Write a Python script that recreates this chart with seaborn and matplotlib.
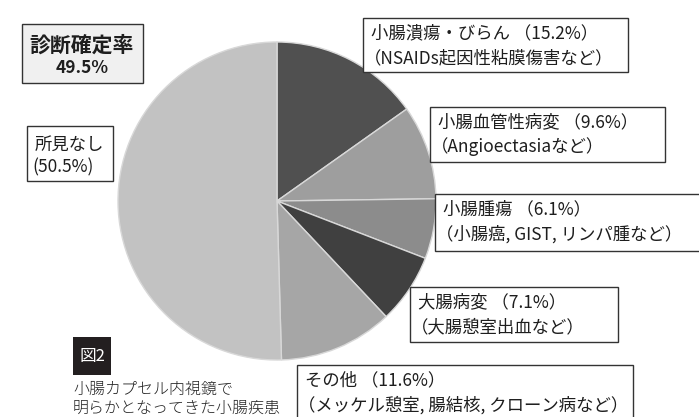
import matplotlib
matplotlib.use("Agg")
import matplotlib.pyplot as plt
import matplotlib.patches as mpatches
import seaborn as sns

# ---- data ----
categories = ["小腸潰瘍・びらん", "小腸血管性病変", "小腸腫瘍", "大腸病変", "その他", "所見なし"]
values = [15.2, 9.6, 6.1, 7.1, 11.6, 50.5]
details = ["（NSAIDs起因性粘膜傷害など）", "（Angioectasiaなど）",
           "（小腸癌, GIST, リンパ腫など）", "（大腸憩室出血など）",
           "（メッケル憩室, 腸結核, クローン病など）", ""]
diag_title = "診断確定率"
diag_value = "49.5%"
fig_tag = "図2"
caption = ["小腸カプセル内視鏡で", "明らかとなってきた小腸疾患"]

slice_colors = ["#505050", "#9e9e9e", "#8c8c8c", "#404040", "#a6a6a6", "#c2c2c2"]

sns.set_theme(style="white")
plt.rcParams['font.family'] = ['Noto Sans CJK JP', 'DejaVu Sans']

W, H = 699, 417
fig = plt.figure(figsize=(W / 100, H / 100), dpi=100)
fig.patch.set_facecolor("white")

def fx(x):
    return x / W

def fy(y):
    return 1 - y / H

# pie
cx, cy, r = 277, 201, 159
ax = fig.add_axes([fx(cx - r), fy(cy + r), 2 * r / W, 2 * r / H])
ax.pie(values, colors=slice_colors, startangle=90, counterclock=False,
       wedgeprops=dict(edgecolor="#d8d8d8", linewidth=1.0))
ax.set_xlim(-1.0, 1.0)
ax.set_ylim(-1.0, 1.0)
ax.set_aspect("auto")
ax.axis("off")

def box(x0, y0, x1, y1, fc="white", lw=1.0):
    rect = mpatches.Rectangle((fx(x0), fy(y1)), fx(x1) - fx(x0), fy(y0) - fy(y1),
                              transform=fig.transFigure, facecolor=fc,
                              edgecolor="#333333", linewidth=lw, zorder=5)
    fig.add_artist(rect)

def pct(v):
    return f"（{v:.1f}%）"

# label boxes: (x0, y0, x1, y1) in pixels
boxes = [
    (363, 18, 628, 72),
    (430, 107, 665, 162),
    (435, 194, 705, 251),
    (410, 287, 618, 342),
    (297, 365, 633, 425),
]
for i, (x0, y0, x1, y1) in enumerate(boxes):
    box(x0, y0, x1, y1)
    fig.text(fx(x0 + 8), fy(y0 + 15), f"{categories[i]} {pct(values[i])}",
             fontsize=12.5, color="#1e1e1e", va="center", ha="left", zorder=6)
    fig.text(fx(x0 + 1), fy(y0 + 40), details[i],
             fontsize=12.5, color="#1e1e1e", va="center", ha="left", zorder=6)

# 所見なし
box(27, 126, 113, 181)
fig.text(fx(35), fy(145), categories[5], fontsize=12.5, color="#1e1e1e",
         va="center", ha="left", zorder=6)
fig.text(fx(32), fy(167), f"({values[5]:.1f}%)", fontsize=12.5, color="#1e1e1e",
         va="center", ha="left", zorder=6)

# diagnosis rate box
box(22, 24, 143, 83, fc="#f0f0f0")
fig.text(fx(82), fy(45), diag_title, fontsize=15, fontweight="bold",
         color="#1e1e1e", va="center", ha="center", zorder=6)
fig.text(fx(82), fy(68), diag_value, fontsize=12.5, fontweight="bold",
         color="#1e1e1e", va="center", ha="center", zorder=6)

# figure tag
tag = mpatches.Rectangle((fx(73), fy(375)), fx(111) - fx(73), fy(337) - fy(375),
                         transform=fig.transFigure, facecolor="#231f20",
                         edgecolor="none", zorder=5)
fig.add_artist(tag)
fig.text(fx(92), fy(356), fig_tag, fontsize=12, color="white",
         va="center", ha="center", zorder=6)

fig.text(fx(73), fy(389), caption[0], fontsize=11.5, color="#222222",
         va="center", ha="left", fontweight="light")
fig.text(fx(73), fy(408), caption[1], fontsize=11.5, color="#222222",
         va="center", ha="left", fontweight="light")

fig.savefig("out.png", dpi=100, facecolor="white")
